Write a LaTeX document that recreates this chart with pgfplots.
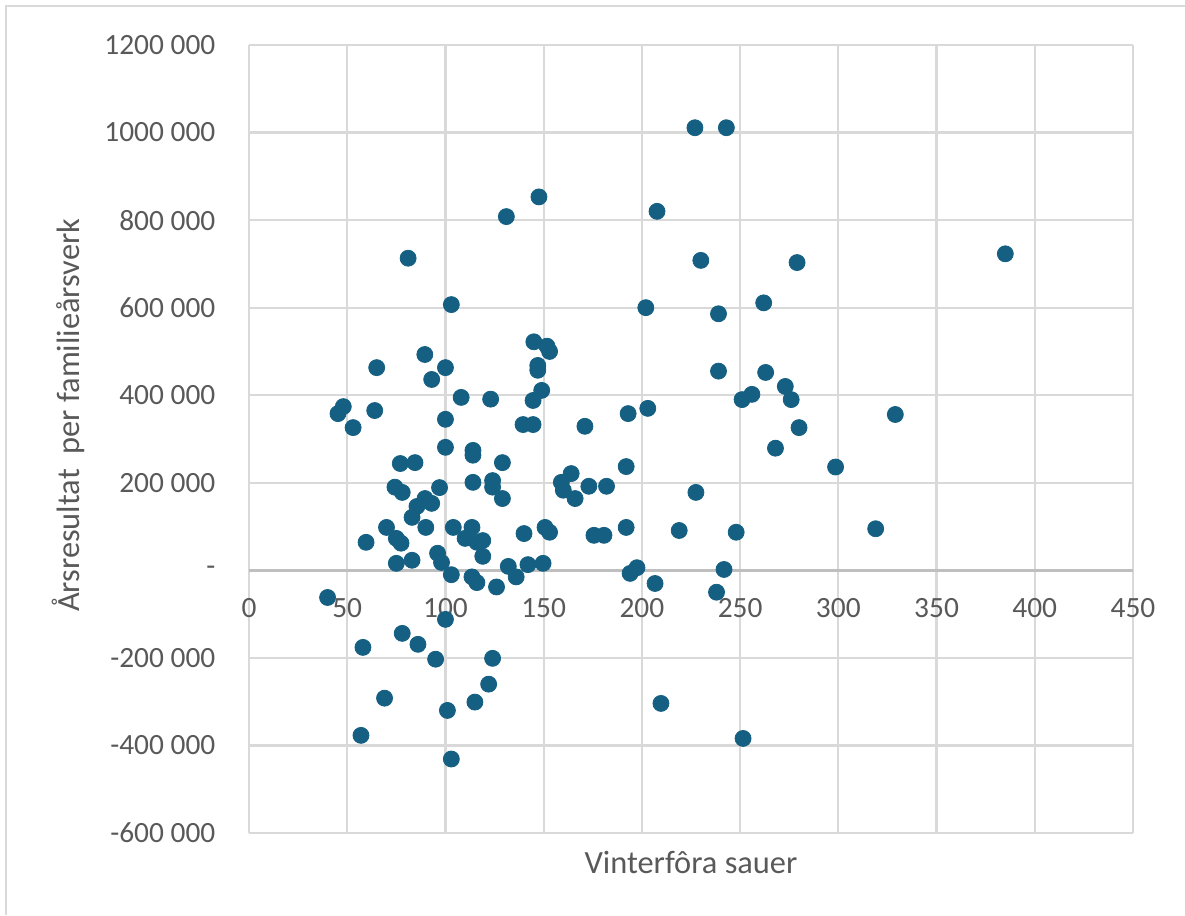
\documentclass[border=0pt]{standalone}
\usepackage{pgfplots}
\pgfplotsset{compat=1.18}
\usepackage{fontspec}
\setmainfont{Carlito}
\usetikzlibrary{calc}
\definecolor{mk}{HTML}{156082}
\definecolor{txt}{HTML}{595959}
\definecolor{gridc}{HTML}{D9D9D9}
\definecolor{axc}{HTML}{BFBFBF}
\begin{document}
\begin{tikzpicture}
\begin{axis}[name=ax, at={(0,0)}, anchor=south west,
  scale only axis, width=442pt, height=394pt,
  xmin=0, xmax=450, ymin=-600000, ymax=1200000,
  xtick={0,50,100,150,200,250,300,350,400,450},
  xticklabels={0,50,100,150,200,250,300,350,400,450},
  ytick={-600000,-400000,-200000,0,200000,400000,600000,800000,1000000,1200000},
  yticklabels={-600~000,-400~000,-200~000,-\hspace{6pt},200~000,400~000,600~000,800~000,1000~000,1200~000},
  scaled y ticks=false, scaled x ticks=false,
  grid=major, grid style={color=gridc, line width=1.1pt},
  axis line style={draw=none}, major tick length=0pt,
  tick label style={font=\fontsize{14.7}{16}\selectfont, text=txt},
  xticklabel style={anchor=base, yshift=107.6pt},
  yticklabel style={anchor=east, xshift=-13.3pt},
  xlabel={Vinterfôra sauer},
  xlabel style={at={(axis description cs:0.5,-0.0508)}, anchor=base, font=\fontsize{16.2}{18}\selectfont, text=txt},
  ylabel={Årsresultat\ \ per familieårsverk},
  ylabel style={at={(axis description cs:-0.2048,0.53)}, anchor=center, rotate=0, font=\fontsize{16.2}{18}\selectfont, text=txt},
]
\draw[axc, line width=1.3pt] (axis cs:0,0) -- (axis cs:450,0);
\addplot[only marks, mark=*, mark size=4pt, color=mk, mark options={fill=mk, draw=mk}] coordinates {
(227,1011000) (243,1011000) (147.6,853000) (207.7,820000) (131,808000)
(385,723000) (81,713000) (230,708000) (279,703000) (262,611000)
(103,607000) (202,600000) (239,586000) (145,522000) (151.7,512000)
(153,500000) (89.5,493000) (147,468000) (147,457000) (65,463000)
(100,463000) (239,455000) (263,452000) (93,436000) (273,420000)
(149,411000) (256,402000) (108,395000) (123,391000) (144.6,388000)
(251,390000) (276,390000) (48,374000) (203,370000) (64,365000)
(45.3,358000) (193,358000) (329,356000) (100,345000) (139.5,333000)
(144.6,333000) (171,329000) (53,326000) (280,326000) (100,281000)
(268,279000) (114,274000) (114,263000) (84.5,246000) (129,246000)
(77,244000) (192,237000) (298.6,236000) (164,221000) (114,201000)
(124,205000) (159,201000) (74.3,190000) (97,189000) (124,190000)
(173,192000) (182,192000) (160,183000) (78,178000) (227.5,178000)
(89.6,164000) (129,164000) (166,164000) (93,153000) (85.5,146000)
(83,121000) (90,98000) (70,98000) (104,98000) (113.5,98000)
(150.7,98000) (192,98000) (319,95000) (219,91000) (153,87000)
(248,87000) (140,84000) (175.6,80000) (180.7,80000) (75,73000)
(110,73000) (119,68000) (59.6,64000) (77.4,62000) (116,64000)
(96,39000) (119,32000) (83,23000) (98,18000) (75,16000)
(149.7,16000) (142,13000) (132,9000) (197.5,6000) (241.8,2000)
(194,-7000) (103,-10000) (113.5,-15000) (136,-15000) (116,-28000)
(206.7,-30000) (126,-38000) (238,-50000) (40,-62000) (100,-112000)
(78,-144000) (86,-169000) (58,-176000) (124,-201000) (95,-203000)
(122,-260000) (69,-292000) (115,-301000) (209.7,-304000) (101,-320000)
(57,-377000) (251.5,-384000) (103,-431000)
};
\end{axis}
\coordinate (BL) at ($(ax.south west)+(-124.5pt,-41pt)$);
\coordinate (TR) at ($(ax.north east)+(26pt,22.5pt)$);
\useasboundingbox (BL) rectangle (TR);
\draw[gridc, line width=0.9pt] ($(BL)+(3pt,0)$) -- ($(BL|-TR)+(3pt,-3pt)$) -- ($(TR)+(0,-3pt)$);
\end{tikzpicture}
\end{document}
